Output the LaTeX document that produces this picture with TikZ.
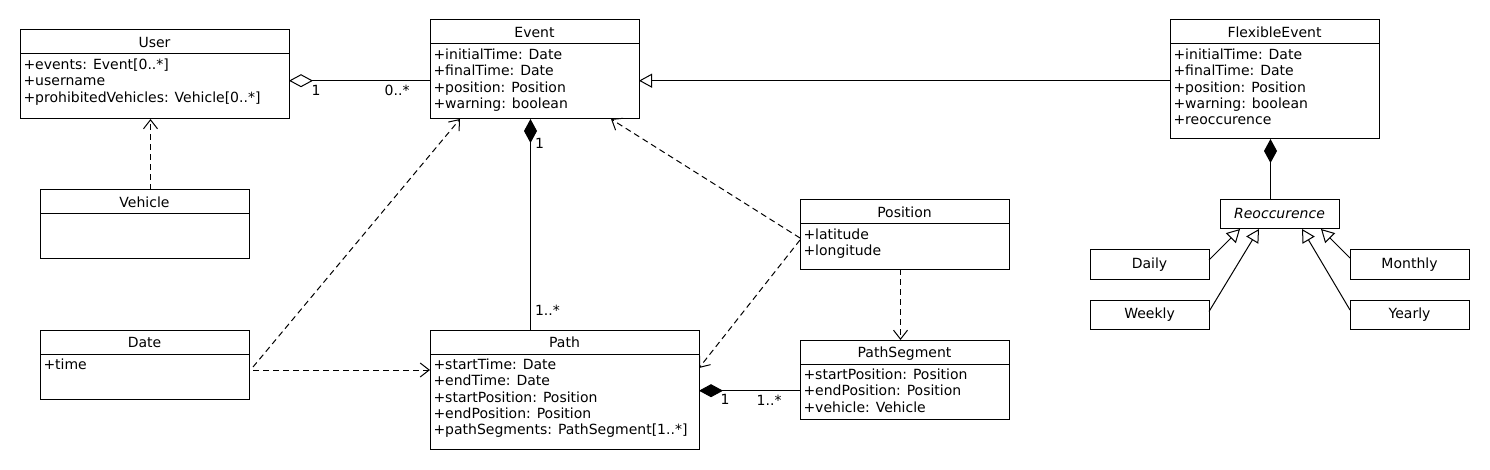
\documentclass[tikz,border=0pt]{standalone}
\usepackage{fontspec}
\setmainfont{DejaVu Sans}
\usetikzlibrary{positioning, arrows.meta}

\begin{document}
\begin{tikzpicture}[
    x=1pt, y=-1pt,
    font=\fontsize{14}{16.3}\selectfont,
    line width=1pt,
    box/.style={rectangle, draw, anchor=north west, inner sep=0pt, outer sep=0pt},
    leaf/.style={box, minimum width=#1, minimum height=29pt, text height=10.5pt, text depth=3pt},
    title/.style={anchor=base, inner sep=0pt},
    attrs/.style={anchor=north west, align=left, inner sep=0pt},
    mult/.style={inner sep=0pt},
    dep/.style={dash pattern=on 6pt off 4pt, -{Straight Barb[length=9pt, width=14pt]}},
    gen/.style={-{Triangle[open, length=13pt, width=14pt]}},
    comp/.style={{Diamond[length=24pt, width=13pt]}-},
    aggr/.style={{Diamond[open, length=24pt, width=13pt]}-},
]
\useasboundingbox (0,0) rectangle (1490,470);

\node[box, minimum width=269pt, minimum height=89pt] (user) at (20,30) {};
\draw ([yshift=-24pt]user.north west) -- ([yshift=-24pt]user.north east);
\node[title] (user-t) at ([yshift=-17.5pt]user.north) {User};
\node[attrs] (user-a) at ([shift={(3pt,-28.5pt)}]user.north west)
    {+events: Event[0..*]\\+username\\+prohibitedVehicles: Vehicle[0..*]};

\node[box, minimum width=209pt, minimum height=99pt] (event) at (430,20) {};
\draw ([yshift=-24pt]event.north west) -- ([yshift=-24pt]event.north east);
\node[title] (event-t) at ([yshift=-17.5pt]event.north) {Event};
\node[attrs] (event-a) at ([shift={(3pt,-28.5pt)}]event.north west)
    {+initialTime: Date\\+finalTime: Date\\+position: Position\\+warning: boolean};

\node[box, minimum width=209pt, minimum height=119pt] (flex) at (1170,20) {};
\draw ([yshift=-24pt]flex.north west) -- ([yshift=-24pt]flex.north east);
\node[title] (flex-t) at ([yshift=-17.5pt]flex.north) {FlexibleEvent};
\node[attrs] (flex-a) at ([shift={(3pt,-28.5pt)}]flex.north west)
    {+initialTime: Date\\+finalTime: Date\\+position: Position\\+warning: boolean\\+reoccurence};

\node[box, minimum width=209pt, minimum height=69pt] (vehicle) at (40,190) {};
\draw ([yshift=-24pt]vehicle.north west) -- ([yshift=-24pt]vehicle.north east);
\node[title] (vehicle-t) at ([yshift=-17.5pt]vehicle.north) {Vehicle};

\node[box, minimum width=209pt, minimum height=69pt] (date) at (40,330) {};
\draw ([yshift=-24pt]date.north west) -- ([yshift=-24pt]date.north east);
\node[title] (date-t) at ([yshift=-17.5pt]date.north) {Date};
\node[attrs] (date-a) at ([shift={(3pt,-28.5pt)}]date.north west) {+time};

\node[box, minimum width=269pt, minimum height=119pt] (path) at (430,330) {};
\draw ([yshift=-24pt]path.north west) -- ([yshift=-24pt]path.north east);
\node[title] (path-t) at ([yshift=-17.5pt]path.north) {Path};
\node[attrs] (path-a) at ([shift={(3pt,-28.5pt)}]path.north west)
    {+startTime: Date\\+endTime: Date\\+startPosition: Position\\+endPosition: Position\\+pathSegments: PathSegment[1..*]};

\node[box, minimum width=209pt, minimum height=69pt] (position) at (800,200) {};
\draw ([yshift=-24pt]position.north west) -- ([yshift=-24pt]position.north east);
\node[title] (position-t) at ([yshift=-17.5pt]position.north) {Position};
\node[attrs] (position-a) at ([shift={(3pt,-28.5pt)}]position.north west)
    {+latitude\\+longitude};

\node[box, minimum width=209pt, minimum height=79pt] (segment) at (800,340) {};
\draw ([yshift=-24pt]segment.north west) -- ([yshift=-24pt]segment.north east);
\node[title] (segment-t) at ([yshift=-17.5pt]segment.north) {PathSegment};
\node[attrs] (segment-a) at ([shift={(3pt,-28.5pt)}]segment.north west)
    {+startPosition: Position\\+endPosition: Position\\+vehicle: Vehicle};

\node[leaf=119pt] (reocc) at (1220,200) {\itshape Reoccurence};
\node[leaf=119pt] (daily) at (1090,250) {Daily};
\node[leaf=119pt] (weekly) at (1090,300) {Weekly};
\node[leaf=119pt] (monthly) at (1350,250) {Monthly};
\node[leaf=119pt] (yearly) at (1350,300) {Yearly};

% associations
\draw[aggr] ([yshift=-6.2pt]user.east) coordinate (ua) -- (ua -| event.west) coordinate (ub);
\node[mult, anchor=north west] (u1) at ([shift={(22pt,-4pt)}]ua) {1};
\node[mult, anchor=north east] (u2) at ([shift={(-20pt,-4pt)}]ub) {0..*};

\draw[gen] ([yshift=-1.2pt]flex.west) coordinate (fa) -- (fa -| event.east);

\draw[comp] ([xshift=-4pt]event.south) coordinate (ea) -- (ea |- path.north) coordinate (eb);
\node[mult, anchor=north west] (e1) at ([shift={(4pt,-19pt)}]ea) {1};
\node[mult, anchor=north west] (e2) at ([shift={(4pt,25pt)}]eb) {1..*};

\draw[comp] ([yshift=-1.2pt]path.east) coordinate (sa) -- (sa -| segment.west) coordinate (sb);
\node[mult, anchor=north west] (s1) at ([shift={(21pt,-3.5pt)}]sa) {1};
\node[mult, anchor=north east] (s2) at ([shift={(-18pt,-3.5pt)}]sb) {1..*};

\draw[comp] ([xshift=-4pt]flex.south) coordinate (ra) -- (ra |- reocc.north);

% dependencies
\draw[dep] ([xshift=6pt]vehicle.north) coordinate (va) -- (va |- user.south);
\draw[dep] ([shift={(4pt,-2.5pt)}]date.east) -- ([xshift=30pt]event.south west);
\draw[dep] ([shift={(4pt,-5.5pt)}]date.east) coordinate (da) -- (da -| path.west);
\draw[dep] ([yshift=-3.5pt]position.west) -- ([xshift=-28pt]event.south east);
\draw[dep] ([yshift=-5.5pt]position.west) -- ([yshift=21.5pt]path.east);
\draw[dep] ([xshift=-4pt]position.south) coordinate (pa) -- (pa |- segment.north);

% kinds of reoccurence
\draw[gen] ([yshift=4.5pt]daily.east) -- ([xshift=20pt]reocc.south west);
\draw[gen] ([yshift=3pt]weekly.east) -- ([xshift=39pt]reocc.south west);
\draw[gen] ([yshift=6.5pt]monthly.west) -- ([xshift=-18pt]reocc.south east);
\draw[gen] ([yshift=4.5pt]yearly.west) -- ([xshift=-37pt]reocc.south east);

\end{tikzpicture}
\end{document}
